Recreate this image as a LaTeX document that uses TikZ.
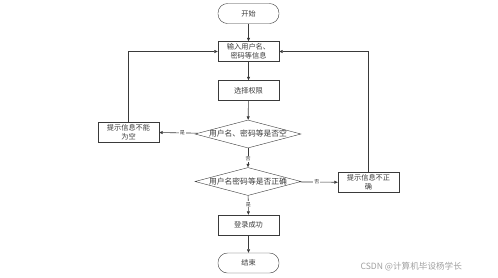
\documentclass[tikz,border=0pt]{standalone}
\usepackage{fontspec}
\setmainfont{Noto Sans CJK SC}
\usetikzlibrary{arrows.meta,shapes.geometric}
\definecolor{lineGrey}{HTML}{3A3A3A}
\definecolor{markGrey}{HTML}{A0A0A0}

\begin{document}
\begin{tikzpicture}[
  x=1pt, y=-1pt,
  box/.style={draw=lineGrey, minimum width=61pt, minimum height=20pt,
              inner sep=1pt, align=center, text=lineGrey,
              font=\fontsize{7.2}{8.6}\selectfont},
  term/.style={box, rounded corners=9.5pt},
  % the text sits on the diamond as a centre label, so the shape keeps its size
  test/.style={diamond, draw=lineGrey, minimum width=106pt, minimum height=28pt,
               inner sep=0pt,
               label={[text=lineGrey, font=\fontsize{7.8}{9}\selectfont]center:#1}},
  flow/.style={-{Triangle[length=3.5pt,width=3pt]}, lineGrey, semithick},
  tag/.style={font=\fontsize{5}{6}\selectfont, fill=white, inner sep=0.8pt, text=lineGrey},
]
\useasboundingbox (0,0) rectangle (498,277);

% --- main column
\node[term] (start)  at (248.5,13.5) {开始};
\node[box]  (input)  at (248.5,51.5) {输入用户名、\\密码等信息};
\node[box]  (role)   at (248.5,90.5) {选择权限};
\node[test={用户名、密码等是否空}] (empty) at (248,134)   {};
\node[test={用户名密码等是否正确}] (check) at (248,181.5) {};
\node[box]  (done)   at (248.5,225)  {登录成功};
\node[term] (finish) at (248.5,263)  {结束};

% --- the two side messages
\node[box] (noempty) at (128.5,132)   {提示信息不能\\为空};
\node[box] (nowrong) at (368.5,182.5) {提示信息不正\\确};

\draw[flow] (start) -- (input);
\draw[flow] (input) -- (role);
\draw[flow] (role) -- (empty);
\draw[flow] (empty) -- node[tag, pos=0.55] {否} (check);
\draw[flow] (empty) -- node[tag, pos=0.4] {是} (noempty);
\draw[flow] (check) -- node[tag, pos=0.45] {否} (nowrong);
\draw[flow] (check) -- node[tag, pos=0.45] {是} (done);
\draw[flow] (done) -- (finish);

% --- back to the input box
\draw[flow] (noempty.north) |- (input.west);
\draw[flow] (nowrong.north) |- (input.east);

\node[text=markGrey, font=\fontsize{8.6}{10}\selectfont, anchor=west] (mark) at (357,267) {CSDN @计算机毕设杨学长};
\end{tikzpicture}
\end{document}
